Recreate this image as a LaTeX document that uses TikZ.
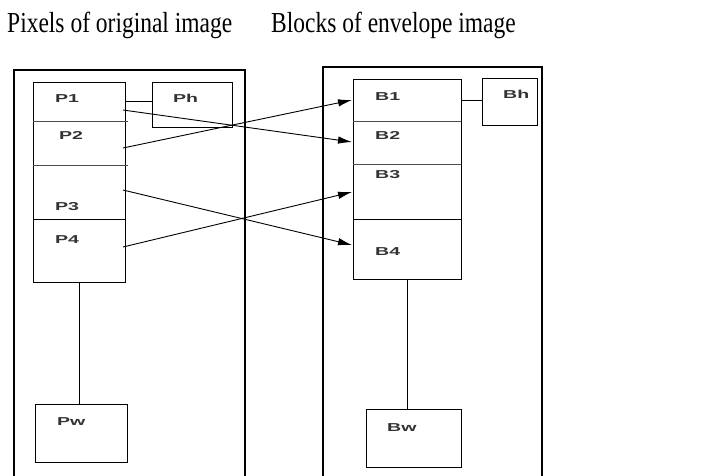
\documentclass[tikz,border=0pt]{standalone}
\usepackage{fontspec}
\usepackage{graphicx}
\setmainfont{Liberation Serif}
\newfontfamily\labelfont{Liberation Sans}
\usetikzlibrary{arrows.meta}
% wide sans labels inside the boxes
\newcommand{\lab}[1]{\scalebox{1.7}[1]{\labelfont\bfseries\fontsize{11.5}{11.5}\selectfont #1}}
% condensed serif headings
\newcommand{\heading}[1]{\scalebox{0.81}[1]{\fontsize{29}{30}\selectfont #1}}
\begin{document}
\begin{tikzpicture}[x=1pt,y=-1pt,
  frame/.style={line width=1.6pt},
  box/.style={draw, line width=1.3pt, inner sep=0pt, anchor=north west},
  divider/.style={line width=0.8pt, black!70},
  lbl/.style={anchor=base west, inner sep=0pt, text=black!80},
  ttl/.style={anchor=base west, inner sep=0pt},
  link/.style={line width=1pt},
  arr/.style={line width=0.9pt, -{Latex[length=14pt,width=7.5pt]}}]
\useasboundingbox (0,0) rectangle (701,475);

% headings
\node[ttl] (t1) at (7,32) {\heading{Pixels of original image}};
\node[ttl] (t2) at (271,32) {\heading{Blocks of envelope image}};

% outer frames (open at the bottom)
\draw[frame] (14,477) -- (14,70) -- (245,70) -- (245,477);
\draw[frame] (323,477) -- (323,67) -- (542,67) -- (542,477);

% left side: pixel column and its companions
\node[box, minimum width=92pt, minimum height=200pt] (pcol) at (33,82) {};
\node[box, minimum width=80pt, minimum height=45pt] (ph) at (152,82) {};
\node[box, minimum width=92pt, minimum height=58pt] (pw) at (35,404) {};
\draw[divider] (33,121) -- (128,121);
\draw[divider] (33,165) -- (128,165);
\draw[line width=1pt] (33,219) -- (125,219);

\node[lbl] (p1) at (55,102) {\lab{P1}};
\node[lbl] (p2) at (59,139) {\lab{P2}};
\node[lbl] (p3) at (55,210) {\lab{P3}};
\node[lbl] (p4) at (55,243) {\lab{P4}};
\node[lbl] (phl) at (173,102) {\lab{Ph}};
\node[lbl] (pwl) at (57,425) {\lab{Pw}};

% right side: block column and its companions
\node[box, minimum width=108pt, minimum height=200pt] (bcol) at (353,79) {};
\node[box, minimum width=55pt, minimum height=47pt] (bh) at (482,78) {};
\node[box, minimum width=95pt, minimum height=58pt] (bw) at (366,409) {};
\draw[divider] (353,121) -- (461,121);
\draw[divider] (353,164) -- (461,164);
\draw[line width=1pt] (353,219) -- (461,219);

\node[lbl] (b1) at (375,100) {\lab{B1}};
\node[lbl] (b2) at (375,139) {\lab{B2}};
\node[lbl] (b3) at (375,178) {\lab{B3}};
\node[lbl] (b4) at (375,255) {\lab{B4}};
\node[lbl] (bhl) at (503,98) {\lab{Bh}};
\node[lbl] (bwl) at (387,431) {\lab{Bw}};

% links to the side boxes
\coordinate (plink) at (0,101);
\coordinate (blink) at (0,100);
\draw[link] (pcol.east |- plink) -- (ph.west |- plink);
\draw[link] (bcol.east |- blink) -- (bh.west |- blink);
\draw[link] (pcol.south) -- (pcol.south |- pw.north);
\draw[link] (bcol.south) -- (bcol.south |- bw.north);

% pixel-to-block mapping
\coordinate (p1o) at (123,110);
\coordinate (p2o) at (123,148);
\coordinate (p3o) at (123,190);
\coordinate (p4o) at (123,247);
\coordinate (b1i) at (352,100);
\coordinate (b2i) at (352,142);
\coordinate (b3i) at (352,192);
\coordinate (b4i) at (352,245);
\draw[arr] (p1o) -- (b2i);
\draw[arr] (p2o) -- (b1i);
\draw[arr] (p3o) -- (b4i);
\draw[arr] (p4o) -- (b3i);
\end{tikzpicture}
\end{document}
